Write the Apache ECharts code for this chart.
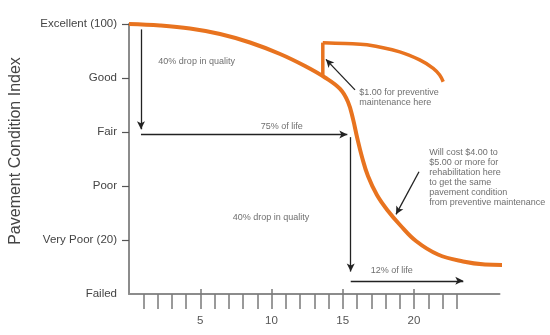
<!DOCTYPE html>
<html><head><meta charset="utf-8">
<script src="https://cdn.jsdelivr.net/npm/echarts@6/dist/echarts.min.js"></script>
<style>html,body{margin:0;padding:0;background:#fff}#c{width:550px;height:335px}</style>
</head><body><div id="c"></div>
<script>
// ---- data ----
var yTickValues = [0, 20, 40, 60, 80, 100];
var yTickLabels = ['Failed', 'Very Poor (20)', 'Poor', 'Fair', 'Good', 'Excellent (100)'];
var xMinorTicks = [1,2,3,4,5,6,7,8,9,10,11,12,13,14,15,16,17,18,19,20,21,22,23];
var xMajorTicks = [5, 10, 15, 20];

var mainX = [0, 2.18, 4.28, 6.39, 8.49, 10.6, 12.35, 13.75, 14.81, 15.37, 15.72, 16.0, 16.35, 16.77, 17.4, 18.18, 19.02, 20.14, 21.68, 23.44, 24.98, 26.39];
var mainY = [100, 99.44, 98.33, 96.3, 93.15, 88.89, 84.44, 80.19, 75.93, 71.11, 64.81, 58.15, 50.74, 43.7, 36.67, 30.74, 25.56, 19.63, 14.63, 12.04, 10.93, 10.74];

var riserX = [13.6, 13.6];
var riserY = [80.6, 93.1];
var prevX = [13.6, 15.2, 16.7, 19.0, 20.4, 21.35, 21.8, 22.05];
var prevY = [93.1, 92.8, 92.3, 89.7, 86.7, 83.6, 81.1, 78.6];

// arrows: [x1, y1, x2, y2] (data units)
var arrows = [
  [0.84, 98, 0.84, 61],
  [0.84, 59.1, 15.32, 59.1],
  [15.56, 58.1, 15.56, 8.3],
  [15.56, 4.9, 23.46, 4.9],
  [15.86, 75.6, 13.82, 86.9],
  [20.35, 45.3, 18.74, 29.5]
];

var noteTexts = [
  '40% drop in quality',
  '75% of life',
  '$1.00 for preventive\nmaintenance here',
  'Will cost $4.00 to\n$5.00 or more for\nrehabilitation here\nto get the same\npavement condition\nfrom preventive maintenance',
  '40% drop in quality',
  '12% of life'
];
var noteX = [2.06, 10.72, 16.16, 21.07, 7.28, 16.96];
var noteY = [86.0, 62.0, 72.6, 43.1, 28.4, 8.6];
var noteAlign = ['left', 'center', 'left', 'left', 'left', 'left'];

var yTitle = 'Pavement Condition Index';

// ---- build ----
function zip(a, b) { return a.map(function (v, i) { return [v, b[i]]; }); }
var orange = '#E8731F';
var font = 'Liberation Sans, Arial, sans-serif';

var chart = echarts.init(document.getElementById('c'), null, { renderer: 'canvas' });
chart.setOption({
  animation: false,
  backgroundColor: '#ffffff',
  grid: { left: 129, right: 50.5, top: 24, bottom: 41, containLabel: false },
  graphic: [{
    type: 'text', x: 15.5, y: 151, rotation: Math.PI / 2,
    style: { text: yTitle, fill: '#444', font: '16px ' + font, textAlign: 'center', textVerticalAlign: 'middle' }
  }],
  xAxis: [{
    type: 'value', min: 0, max: 26, position: 'bottom',
    axisLine: { show: true, onZero: false, lineStyle: { color: '#8c8c8c', width: 2 } },
    axisTick: { show: true, customValues: xMinorTicks, length: 15, lineStyle: { color: '#7a7a7a', width: 1.5 } },
    axisLabel: { show: true, customValues: xMajorTicks, margin: 21, color: '#555', fontSize: 11.5, fontFamily: font },
    splitLine: { show: false }
  }, {
    type: 'value', min: 0, max: 26, position: 'bottom', offset: -5,
    axisLine: { show: false },
    axisTick: { show: true, customValues: xMajorTicks, length: 20, lineStyle: { color: '#7a7a7a', width: 1.5 } },
    axisLabel: { show: false },
    splitLine: { show: false }
  }],
  yAxis: [{
    type: 'value', min: 0, max: 100, interval: 20,
    axisLine: { show: true, onZero: false, lineStyle: { color: '#8c8c8c', width: 2 } },
    axisTick: { show: true, customValues: [20, 40, 60, 80, 100], length: 7, lineStyle: { color: '#555', width: 1.2 } },
    axisLabel: {
      show: true, margin: 12, color: '#444', fontSize: 11.5, fontFamily: font,
      formatter: function (v) { var i = yTickValues.indexOf(v); return i >= 0 ? yTickLabels[i] : ''; }
    },
    splitLine: { show: false }
  }],
  series: [{
    type: 'line', data: zip(mainX, mainY), smooth: 0.4, symbol: 'none', clip: false,
    lineStyle: { color: orange, width: 4 }, z: 3
  }, {
    type: 'line', data: zip(riserX, riserY), symbol: 'none', clip: false,
    lineStyle: { color: orange, width: 3.5 }, z: 3
  }, {
    type: 'line', data: zip(prevX, prevY), smooth: 0.4, symbol: 'none', clip: false,
    lineStyle: { color: orange, width: 3.5, cap: 'butt' }, z: 3
  }, {
    type: 'line', data: [], symbol: 'none',
    markLine: {
      silent: true, symbol: ['none', 'arrow'], symbolSize: [6, 8], animation: false,
      label: { show: false },
      lineStyle: { color: '#222', width: 1.3, type: 'solid' },
      emphasis: { disabled: true },
      data: arrows.map(function (a) { return [{ coord: [a[0], a[1]] }, { coord: [a[2], a[3]] }]; })
    }, z: 4
  }, {
    type: 'scatter', symbolSize: 0, silent: true, z: 5,
    data: noteTexts.map(function (t, i) {
      return {
        value: [noteX[i], noteY[i]], name: t,
        label: { show: true, position: 'inside', align: noteAlign[i], verticalAlign: 'middle',
          formatter: t, color: '#4a4a4a', fontSize: 9, lineHeight: 10, fontFamily: font }
      };
    })
  }]
});
</script>
</body></html>
